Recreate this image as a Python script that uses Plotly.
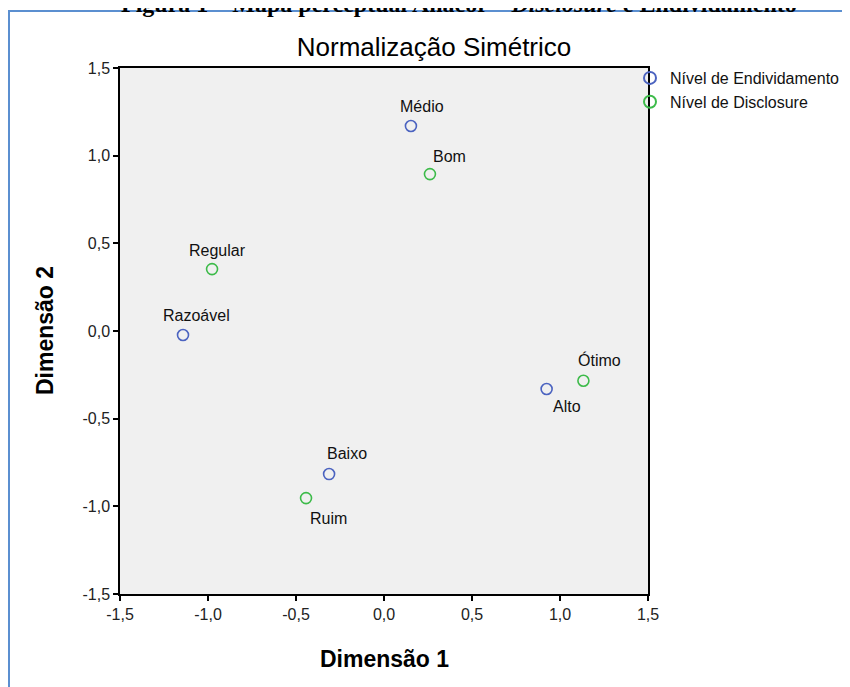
import plotly.graph_objects as go

# ---- data ----
endiv_labels = ["Médio", "Razoável", "Alto", "Baixo"]
endiv_x = [0.153, -1.142, 0.924, -0.312]
endiv_y = [1.169, -0.023, -0.331, -0.816]

discl_labels = ["Bom", "Regular", "Ótimo", "Ruim"]
discl_x = [0.261, -0.977, 1.133, -0.443]
discl_y = [0.895, 0.353, -0.284, -0.953]

tick_vals = [-1.5, -1.0, -0.5, 0.0, 0.5, 1.0, 1.5]
tick_text = ["-1,5", "-1,0", "-0,5", "0,0", "0,5", "1,0", "1,5"]

series_names = ["Nível de Endividamento", "Nível de Disclosure"]

# ---- styles ----
BLUE = "#4b63c0"
GREEN = "#3dbb4a"
FONT = "Arial, Liberation Sans, sans-serif"
# label offsets in pixels (dx, dy) relative to each point
endiv_off = [(11, 20), (13, 20), (20, -17), (18, 21)]
discl_off = [(20, 18), (5, 19), (16, 21), (22, -20)]

W, H = 842, 679          # page body has an 8px margin
L, R, T, B = 112, 202, 60, 93
PW, PH = W - L - R, H - T - B

fig = go.Figure()
fig.add_trace(go.Scatter(
    x=endiv_x, y=endiv_y, mode="markers", name=series_names[0],
    marker=dict(symbol="circle-open", size=11, color=BLUE, line=dict(width=1.6)),
    hoverinfo="text", text=endiv_labels))
fig.add_trace(go.Scatter(
    x=discl_x, y=discl_y, mode="markers", name=series_names[1],
    marker=dict(symbol="circle-open", size=11, color=GREEN, line=dict(width=1.6)),
    hoverinfo="text", text=discl_labels))

annotations = []
for labs, xs, ys, offs in [(endiv_labels, endiv_x, endiv_y, endiv_off),
                           (discl_labels, discl_x, discl_y, discl_off)]:
    for lab, x, y, (dx, dy) in zip(labs, xs, ys, offs):
        annotations.append(dict(
            x=x, y=y, xref="x", yref="y", text=lab, showarrow=False,
            xshift=dx, yshift=dy, font=dict(family=FONT, size=16, color="#111")))

# caption at the very top, cut by the page edge as in the reference
annotations.append(dict(
    x=(451 - L) / PW, y=(T + PH - 11) / PH, xref="paper", yref="paper",
    xanchor="center", yanchor="bottom", showarrow=False,
    text="<b>Figura 1 – Mapa perceptual Anacor – <i>Disclosure</i> e Endividamento</b>",
    font=dict(family="Liberation Serif, Times New Roman, serif", size=24, color="black")))

# axis titles
annotations.append(dict(
    x=0.5, y=(T + PH - 651) / PH, xref="paper", yref="paper",
    xanchor="center", yanchor="middle",
    showarrow=False, text="<b>Dimensão 1</b>",
    font=dict(family=FONT, size=23, color="black")))
annotations.append(dict(
    x=(37 - L) / PW, y=0.5, xref="paper", yref="paper",
    xanchor="center", yanchor="middle",
    showarrow=False, text="<b>Dimensão 2</b>", textangle=-90,
    font=dict(family=FONT, size=23, color="black")))

axis_common = dict(
    range=[-1.5, 1.5], tickvals=tick_vals, ticktext=tick_text,
    showgrid=False, zeroline=False, showline=True, mirror=True,
    linecolor="black", linewidth=1.5, ticks="outside", ticklen=5,
    tickwidth=1.5, tickcolor="black",
    tickfont=dict(family=FONT, size=16, color="#222"), fixedrange=True)

fig.update_layout(
    width=W, height=H,
    margin=dict(l=L, r=R, t=T, b=B, autoexpand=False),
    paper_bgcolor="white", plot_bgcolor="#f0f0f0",
    font=dict(family=FONT, color="black"),
    title=dict(text="Normalização Simétrico", x=426 / W, xref="container",
               y=1 - 39 / H, yref="container", xanchor="center", yanchor="middle",
               font=dict(family=FONT, size=26, color="black")),
    xaxis=axis_common, yaxis=axis_common,
    showlegend=True,
    legend=dict(x=(622 - L) / PW, y=(T + PH - 53) / PH, xanchor="left", yanchor="top",
                bgcolor="rgba(0,0,0,0)", font=dict(family=FONT, size=16, color="#111"),
                itemsizing="constant", tracegroupgap=0),
    annotations=annotations,
    shapes=[dict(type="rect", xref="paper", yref="paper",
                 x0=(1 - L) / PW, x1=2.0, y0=-0.5, y1=(T + PH - 3) / PH,
                 line=dict(color="#5b8fd0", width=2), layer="below")],
)

fig.write_html("out.html")
